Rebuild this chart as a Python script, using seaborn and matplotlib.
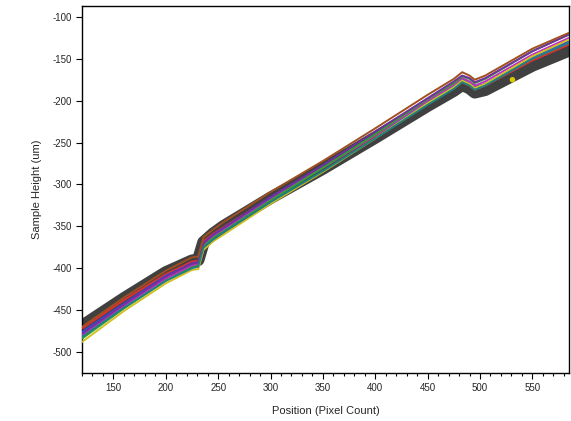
import pandas as pd
import seaborn as sns
from matplotlib import pyplot as plt
from matplotlib.ticker import MultipleLocator

# knot positions along the scan (pixel count)
pos = [120, 160, 200, 225, 231, 236, 245, 255, 300, 350, 400, 450, 475, 483, 490, 495, 505, 550, 585]

# thick grey reference trace
dark = [-469, -436, -405, -391, -390, -369, -359, -350, -316, -281, -244, -206, -188, -181, -185, -190, -187, -158, -140]

# thin coloured traces
trace_1 = [-472, -438, -407, -392, -391, -368, -359, -351, -316, -280, -242, -203, -185, -178, -182, -187, -182, -152, -133]
trace_2 = [-476, -442, -409, -394, -393, -370, -361, -352, -317, -280, -241, -202, -183, -175, -179, -184, -180, -148, -129]
trace_3 = [-480, -445, -412, -397, -395, -372, -363, -354, -318, -280, -241, -200, -181, -173, -177, -182, -177, -145, -125]
trace_4 = [-484, -448, -415, -399, -397, -374, -364, -356, -319, -280, -240, -198, -179, -171, -174, -179, -174, -141, -121]
trace_5 = [-488, -451, -418, -402, -401, -378, -368, -360, -323, -285, -245, -203, -184, -176, -180, -185, -180, -147, -127]
trace_6 = [-478, -443, -410, -394, -393, -370, -360, -352, -315, -277, -237, -197, -177, -170, -173, -178, -173, -141, -121]
trace_7 = [-482, -447, -415, -400, -398, -375, -366, -357, -321, -284, -245, -205, -186, -178, -182, -187, -182, -150, -131]
trace_8 = [-470, -435, -403, -387, -386, -363, -354, -345, -309, -272, -233, -193, -174, -166, -170, -175, -170, -138, -119]
traces = [trace_1, trace_2, trace_3, trace_4, trace_5, trace_6, trace_7, trace_8]
trace_colors = ['#e03030', '#3050d0', '#c030c0', '#30a030', '#d0c020', '#7030a0', '#208080', '#a05020']

# stray point
dot_x = [531]
dot_y = [-175]

rows = []
for k, tr in enumerate(traces):
    for p, h in zip(pos, tr):
        rows.append({'pos': p, 'height': h, 'series': f't{k}'})
df = pd.DataFrame(rows)
dfd = pd.DataFrame({'pos': pos, 'height': dark})

sns.set_style('ticks')
plt.rcParams['font.family'] = ['Liberation Sans', 'DejaVu Sans']
plt.rcParams['axes.unicode_minus'] = False

fig = plt.figure(figsize=(5.71, 4.21), dpi=100)
ax = fig.add_axes([82 / 571, 48 / 421, 487 / 571, 367 / 421])

sns.lineplot(data=dfd, x='pos', y='height', color='#404040', linewidth=9, ax=ax, zorder=2)
sns.lineplot(data=df, x='pos', y='height', hue='series', palette=trace_colors,
             linewidth=1.4, legend=False, ax=ax, zorder=3)
sns.scatterplot(x=dot_x, y=dot_y, color='#d8c800', s=16, edgecolor='none', ax=ax, zorder=4)

ax.set_xlim(120, 585)
ax.set_ylim(-525, -87)
ax.xaxis.set_major_locator(MultipleLocator(50))
ax.xaxis.set_minor_locator(MultipleLocator(10))
ax.yaxis.set_major_locator(MultipleLocator(50))
ax.tick_params(axis='both', which='major', length=4, width=0.8, labelsize=7, color='black')
ax.tick_params(axis='x', which='minor', length=2.5, width=0.8, color='black')
for s in ax.spines.values():
    s.set_visible(True)
    s.set_color('black')
    s.set_linewidth(1)

ax.set_xlabel('Position (Pixel Count)', fontsize=8, labelpad=9)
ax.set_ylabel('Sample Height (um)', fontsize=8, labelpad=7)

fig.savefig('out.png', dpi=100)
